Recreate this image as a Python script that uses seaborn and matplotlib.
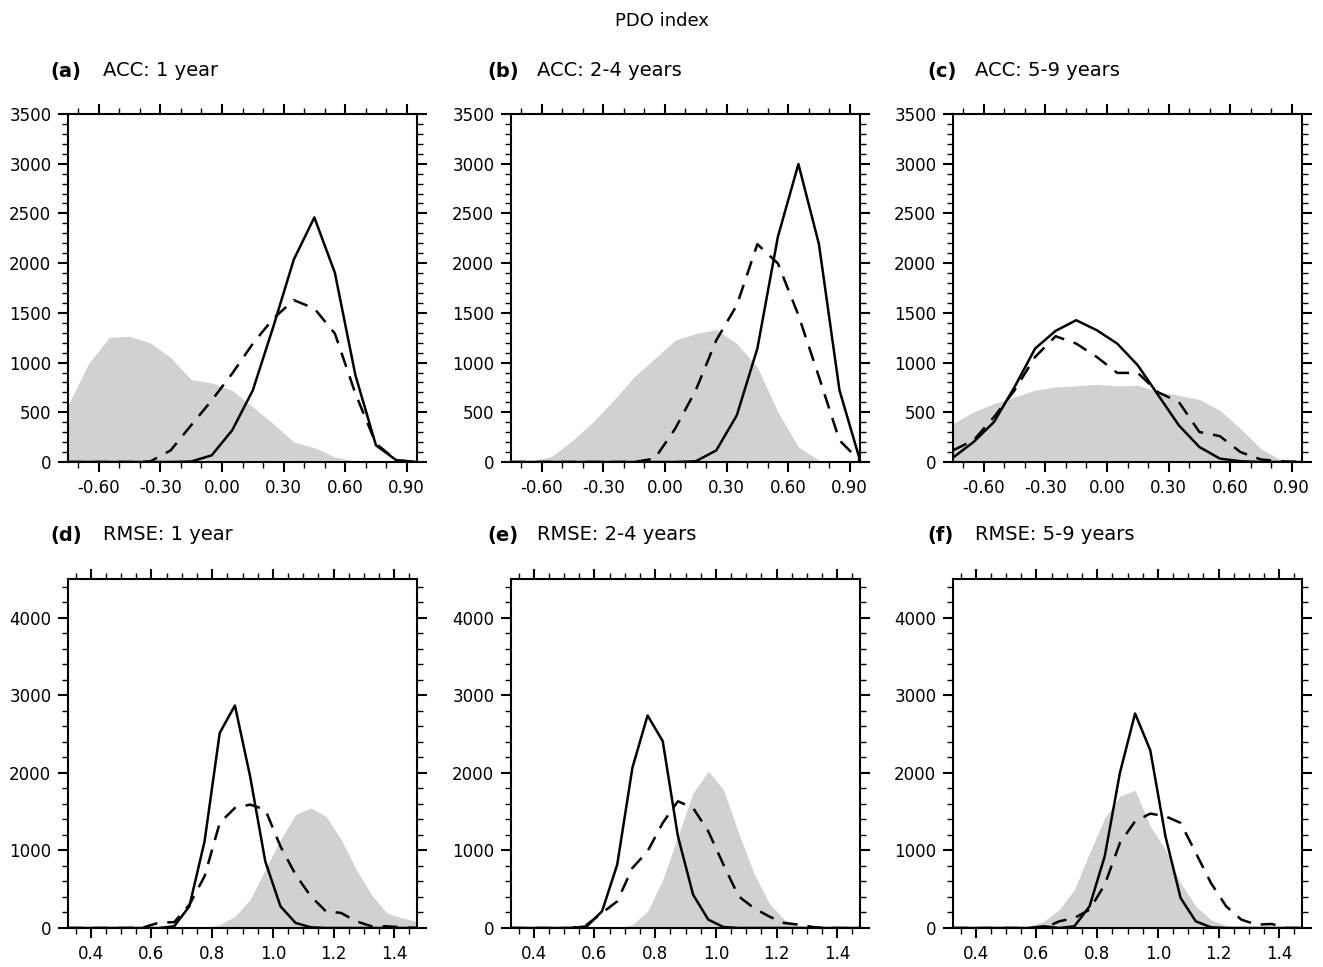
import numpy as np
import pandas as pd
import seaborn as sns
import matplotlib
matplotlib.use("Agg")
import matplotlib.pyplot as plt
from matplotlib.ticker import MultipleLocator, FixedLocator

sns.set_style("ticks")
plt.rcParams['font.family'] = ['DejaVu Sans']
plt.rcParams['text.color'] = 'black'
plt.rcParams['xtick.color'] = 'black'
plt.rcParams['ytick.color'] = 'black'
plt.rcParams['xtick.labelcolor'] = 'black'
plt.rcParams['ytick.labelcolor'] = 'black'

# ---------------- data ----------------
acc_x = [-0.75, -0.65, -0.55, -0.45, -0.35, -0.25, -0.15, -0.05, 0.05,
         0.15, 0.25, 0.35, 0.45, 0.55, 0.65, 0.75, 0.85, 0.95]
rmse_x = [0.325, 0.375, 0.425, 0.475, 0.525, 0.575, 0.625, 0.675, 0.725,
          0.775, 0.825, 0.875, 0.925, 0.975, 1.025, 1.075, 1.125, 1.175,
          1.225, 1.275, 1.325, 1.375, 1.425, 1.475]

a_grey = [570, 990, 1252, 1265, 1198, 1050, 829, 795, 720, 555, 385, 200, 145, 50, 10, 0, 0, 0]
a_solid = [0, 0, 0, 0, 0, 0, 5, 67, 320, 720, 1360, 2037, 2460, 1903, 873, 168, 17, 0]
a_dash = [0, 0, 0, 0, 5, 117, 370, 620, 890, 1190, 1443, 1628, 1544, 1292, 688, 185, 17, 0]

b_grey = [0, 7, 57, 218, 403, 621, 856, 1040, 1225, 1292, 1332, 1191, 956, 503, 151, 17, 0, 0]
b_solid = [0, 0, 0, 0, 0, 0, 0, 0, 0, 7, 117, 470, 1141, 2265, 2997, 2191, 722, 17]
b_dash = [0, 0, 0, 0, 0, 0, 0, 34, 336, 722, 1225, 1577, 2191, 1997, 1477, 856, 218, 10]

c_grey = [386, 503, 587, 654, 722, 755, 765, 782, 765, 772, 705, 671, 628, 520, 336, 134, 17, 0]
c_solid = [44, 201, 403, 755, 1141, 1319, 1426, 1326, 1191, 973, 671, 369, 151, 34, 7, 0, 0, 0]
c_dash = [117, 218, 453, 722, 1057, 1265, 1191, 1057, 896, 896, 700, 604, 302, 260, 100, 25, 7, 0]

d_grey = [0, 0, 0, 0, 0, 0, 0, 0, 0, 9, 43, 150, 366, 753, 1140, 1462, 1548, 1441, 1140, 753, 430, 194, 129, 86]
d_solid = [0, 0, 0, 0, 0, 0, 0, 22, 280, 1118, 2516, 2869, 1957, 860, 280, 65, 9, 0, 0, 0, 0, 0, 0, 0]
d_dash = [0, 0, 0, 0, 0, 9, 70, 75, 300, 667, 1355, 1548, 1591, 1527, 1054, 688, 409, 215, 194, 86, 22, 22, 9, 0]

e_grey = [0, 0, 0, 0, 0, 0, 0, 0, 43, 215, 624, 1183, 1742, 2021, 1785, 1226, 710, 323, 108, 30, 9, 0, 0, 0]
e_solid = [0, 0, 0, 0, 0, 22, 215, 817, 2065, 2740, 2409, 1183, 430, 108, 13, 0, 0, 0, 0, 0, 0, 0, 0, 0]
e_dash = [0, 0, 0, 0, 0, 43, 194, 344, 774, 989, 1355, 1634, 1548, 1247, 817, 409, 258, 150, 65, 43, 9, 0, 0, 0]

f_grey = [0, 0, 0, 0, 0, 22, 86, 237, 495, 968, 1419, 1699, 1776, 1312, 1011, 580, 280, 108, 30, 9, 0, 0, 22, 0]
f_solid = [0, 0, 0, 0, 0, 0, 22, 0, 22, 280, 925, 2000, 2766, 2292, 1183, 387, 86, 9, 0, 0, 0, 0, 0, 0]
f_dash = [0, 0, 0, 0, 0, 0, 0, 86, 129, 237, 559, 1097, 1376, 1475, 1441, 1355, 968, 581, 280, 108, 43, 52, 0, 0]

panel_letters = ["(a)", "(b)", "(c)", "(d)", "(e)", "(f)"]
panel_titles = ["ACC: 1 year", "ACC: 2-4 years", "ACC: 5-9 years",
                "RMSE: 1 year", "RMSE: 2-4 years", "RMSE: 5-9 years"]
acc_ticks = [-0.60, -0.30, 0.00, 0.30, 0.60, 0.90]
acc_ticklabels = ["-0.60", "-0.30", "0.00", "0.30", "0.60", "0.90"]
rmse_ticks = [0.4, 0.6, 0.8, 1.0, 1.2, 1.4]
rmse_ticklabels = ["0.4", "0.6", "0.8", "1.0", "1.2", "1.4"]
acc_yticks = [0, 500, 1000, 1500, 2000, 2500, 3000, 3500]
rmse_yticks = [0, 1000, 2000, 3000, 4000]

panels = [
    (acc_x, a_grey, a_solid, a_dash),
    (acc_x, b_grey, b_solid, b_dash),
    (acc_x, c_grey, c_solid, c_dash),
    (rmse_x, d_grey, d_solid, d_dash),
    (rmse_x, e_grey, e_solid, e_dash),
    (rmse_x, f_grey, f_solid, f_dash),
]

# ---------------- layout (pixels) ----------------
W, H = 1323, 967
lefts = [68, 511, 953]
width = 349
rows = [(114, 462), (579, 928)]
letter_x = [50, 487, 927]
title_x = [103, 537, 975]
title_y = [71, 535]

fig = plt.figure(figsize=(W / 100, H / 100), dpi=100)
grey = "#d0d1d1"

for i, (xs, g, s, d) in enumerate(panels):
    r, c = divmod(i, 3)
    top, bot = rows[r]
    ax = fig.add_axes([lefts[c] / W, 1 - bot / H, width / W, (bot - top) / H])
    ax.fill_between(xs, g, 0, color=grey, lw=0, zorder=1)
    df = pd.DataFrame({"x": xs, "solid": s, "dash": d})
    sns.lineplot(data=df, x="x", y="dash", ax=ax, color="black", lw=1.8,
                 linestyle=(0, (6, 4)), zorder=3)
    sns.lineplot(data=df, x="x", y="solid", ax=ax, color="black", lw=1.8, zorder=4)
    ax.set_xlabel("")
    ax.set_ylabel("")
    if r == 0:
        ax.set_xlim(-0.75, 0.95)
        ax.set_ylim(0, 3500)
        ax.xaxis.set_major_locator(FixedLocator(acc_ticks))
        ax.set_xticklabels(acc_ticklabels)
        ax.xaxis.set_minor_locator(MultipleLocator(0.1))
        ax.yaxis.set_major_locator(FixedLocator(acc_yticks))
        ax.set_yticklabels([str(v) for v in acc_yticks])
        ax.yaxis.set_minor_locator(MultipleLocator(100))
    else:
        ax.set_xlim(0.325, 1.475)
        ax.set_ylim(0, 4500)
        ax.xaxis.set_major_locator(FixedLocator(rmse_ticks))
        ax.set_xticklabels(rmse_ticklabels)
        ax.xaxis.set_minor_locator(MultipleLocator(0.05))
        ax.yaxis.set_major_locator(FixedLocator(rmse_yticks))
        ax.set_yticklabels([str(v) for v in rmse_yticks])
        ax.yaxis.set_minor_locator(MultipleLocator(200))
    for sp in ax.spines.values():
        sp.set_visible(True)
        sp.set_linewidth(1.5)
        sp.set_color("black")
        sp.set_zorder(5)
    ax.tick_params(which="both", direction="out", top=True, right=True,
                   labeltop=False, labelright=False, color="black",
                   labelcolor="black")
    ax.tick_params(which="major", length=7, width=1.5, labelsize=12, pad=5)
    ax.tick_params(which="minor", length=4, width=1.0)
    fig.text(letter_x[c] / W, 1 - title_y[r] / H, panel_letters[i],
             fontsize=14, fontweight="bold", va="center", ha="left", color="black")
    fig.text(title_x[c] / W, 1 - title_y[r] / H, panel_titles[i],
             fontsize=14, va="center", ha="left", color="black")

fig.text(662 / W, 1 - 21 / H, "PDO index", fontsize=13, ha="center",
         va="center", color="black")

fig.savefig("out.png", dpi=100, facecolor="white")
